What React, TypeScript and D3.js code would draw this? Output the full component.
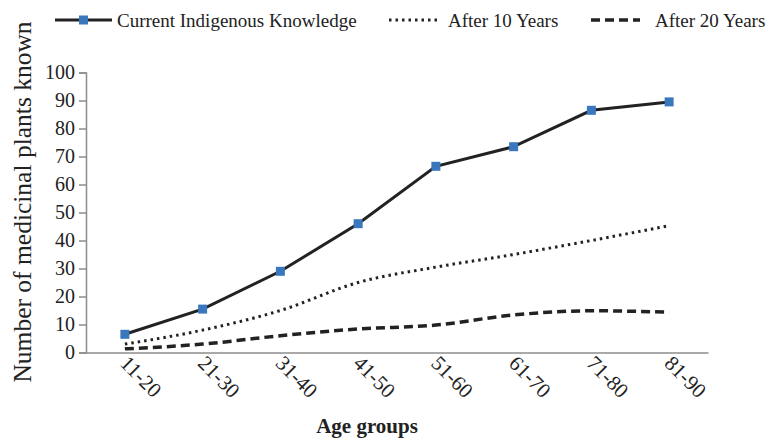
import React, { useEffect, useRef } from 'react';
import * as d3 from 'd3';

const ageGroups = ['11-20', '21-30', '31-40', '41-50', '51-60', '61-70', '71-80', '81-90'];
const currentKnowledge = [6.5, 15.5, 29, 46, 66.5, 73.5, 86.5, 89.5];
const after10Years = [3, 8, 15, 25, 30.5, 35, 40, 45.3];
const after20Years = [1.3, 3, 6, 8.4, 9.8, 13.4, 14.9, 14.4];
const yTicks = [0, 10, 20, 30, 40, 50, 60, 70, 80, 90, 100];

const W = 769;
const H = 440;
const serif = '"Liberation Serif", "Times New Roman", serif';

export default function App() {
  const svgRef = useRef<SVGSVGElement>(null);

  useEffect(() => {
    if (!svgRef.current) return;
    const svg = d3.select(svgRef.current);
    svg.selectAll('*').remove();

    const x = d3.scaleBand<string>().domain(ageGroups).range([86, 708]);
    const y = d3.scaleLinear().domain([0, 100]).range([352.5, 72.5]);
    const cx = (g: string) => (x(g) as number) + x.bandwidth() / 2;

    // axes
    const yAxis = svg.append('g').attr('transform', 'translate(86,0)')
      .call(d3.axisLeft(y).tickValues(yTicks).tickSize(7).tickPadding(4));
    yAxis.select('.domain').attr('stroke', '#8c8c8c').attr('stroke-width', 1.5);
    yAxis.selectAll('.tick line').attr('stroke', '#8c8c8c').attr('stroke-width', 1.5);
    yAxis.selectAll('.tick text')
      .attr('font-family', serif).attr('font-size', 20).attr('fill', '#222');

    const xAxis = svg.append('g').attr('transform', 'translate(0,352.5)')
      .call(d3.axisBottom(x).tickSize(0).tickPadding(0));
    xAxis.select('.domain').attr('stroke', '#8c8c8c').attr('stroke-width', 1.5);
    xAxis.selectAll('.tick text')
      .attr('font-family', serif).attr('font-size', 21).attr('fill', '#222')
      .attr('text-anchor', 'start').attr('dy', 0).attr('y', 0)
      .attr('transform', 'translate(-6,12) rotate(45)');

    // lines
    const mk = (vals: number[], curve: d3.CurveFactory) =>
      d3.line<number>().x((_, i) => cx(ageGroups[i])).y(d => y(d)).curve(curve)(vals);

    svg.append('path').attr('d', mk(after20Years, d3.curveMonotoneX))
      .attr('fill', 'none').attr('stroke', '#222').attr('stroke-width', 3.5)
      .attr('stroke-dasharray', '9,5');
    svg.append('path').attr('d', mk(after10Years, d3.curveMonotoneX))
      .attr('fill', 'none').attr('stroke', '#222').attr('stroke-width', 3)
      .attr('stroke-dasharray', '2.5,4');
    svg.append('path').attr('d', mk(currentKnowledge, d3.curveLinear))
      .attr('fill', 'none').attr('stroke', '#222').attr('stroke-width', 3);

    svg.selectAll('rect.pt').data(currentKnowledge).enter().append('rect')
      .attr('class', 'pt')
      .attr('x', (_, i) => cx(ageGroups[i]) - 4.5)
      .attr('y', d => y(d) - 4.5)
      .attr('width', 9).attr('height', 9)
      .attr('fill', '#3a78bd');

    // titles
    svg.append('text')
      .attr('transform', 'translate(31,202) rotate(-90)')
      .attr('text-anchor', 'middle')
      .attr('font-family', serif).attr('font-size', 25.5).attr('fill', '#222')
      .text('Number of medicinal plants known');
    svg.append('text')
      .attr('x', 367).attr('y', 433)
      .attr('text-anchor', 'middle')
      .attr('font-family', serif).attr('font-size', 21).attr('font-weight', 'bold').attr('fill', '#222')
      .text('Age groups');

    // legend
    const legend = [
      { label: 'Current Indigenous Knowledge', x0: 55, x1: 112, tx: 117, dash: null, w: 3, marker: true },
      { label: 'After 10 Years', x0: 389, x1: 438, tx: 448, dash: '2.5,4', w: 3, marker: false },
      { label: 'After 20 Years', x0: 591, x1: 640, tx: 655, dash: '9,5', w: 3.5, marker: false },
    ];
    const lg = svg.append('g');
    legend.forEach(l => {
      lg.append('line').attr('x1', l.x0).attr('x2', l.x1).attr('y1', 20).attr('y2', 20)
        .attr('stroke', '#222').attr('stroke-width', l.w)
        .attr('stroke-dasharray', l.dash);
      if (l.marker) {
        lg.append('rect').attr('x', (l.x0 + l.x1) / 2 - 4.5).attr('y', 15.5)
          .attr('width', 9).attr('height', 9).attr('fill', '#3a78bd');
      }
      lg.append('text').attr('x', l.tx).attr('y', 27)
        .attr('font-family', serif).attr('font-size', 19).attr('fill', '#222')
        .text(l.label);
    });
  }, []);

  return (
    <svg ref={svgRef} width={W} height={H} style={{ position: 'absolute', left: 0, top: 0, background: '#fff' }} />
  );
}
